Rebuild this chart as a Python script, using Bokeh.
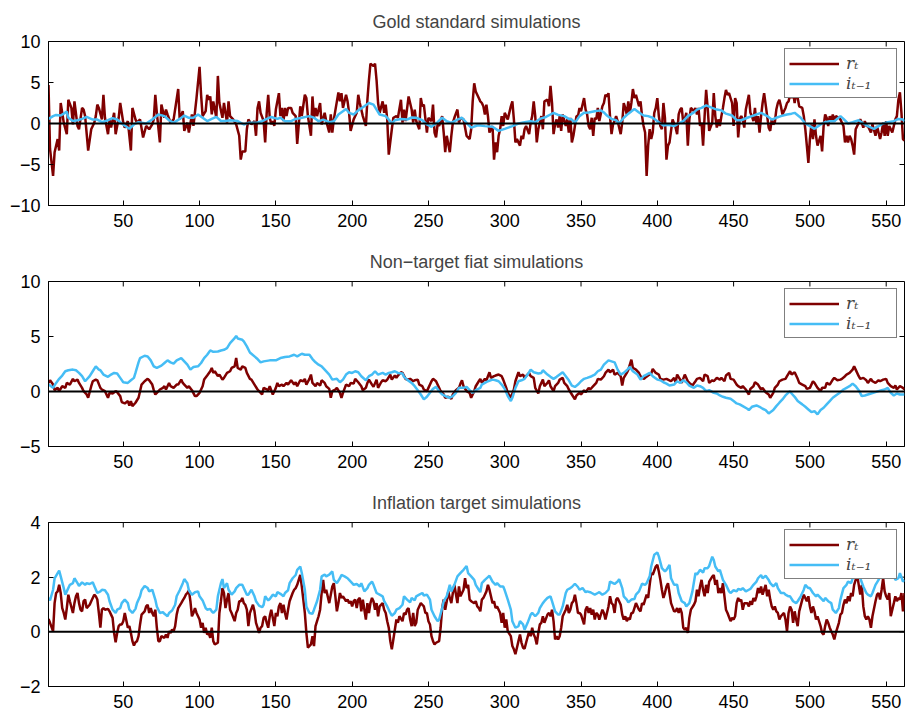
from bokeh.plotting import figure
from bokeh.models import Range1d, FixedTicker, Span, Legend, LegendItem
from bokeh.layouts import column
from bokeh.embed import file_html
from bokeh.resources import INLINE

# ---------------- data (period, value) ----------------
x_ticks = [50, 100, 150, 200, 250, 300, 350, 400, 450, 500, 550]
titles = ["Gold standard simulations", "Non\u2212target fiat simulations", "Inflation target simulations"]
legend_labels = ["r\u209c", "i\u209c\u208b\u2081"]

gold_rate = [
(1,4.7),(2,-3.1),(4,-6.4),(5,-3.5),(7,-1.9),(8,-3.3),(9,2.5),(11,0.1),(13,-1.3),(14,2.9),
(16,1.9),(17,-0.1),(18,2.7),(20,-0.3),(21,-0.7),(23,1.9),(24,1.7),(25,0.9),(27,-3.3),(29,-0.7),
(31,0.1),(32,0.9),(33,2.3),(34,1.9),(36,0.5),(37,3.5),(38,0.7),(40,-1.3),(41,0.5),(42,-0.5),
(44,1.3),(45,-1.3),(47,0.7),(48,2.5),(50,0.1),(51,-0.5),(53,0.3),(55,-3.3),(56,1.9),(58,0.5),
(59,0.1),(61,0.5),(63,-1.7),(65,-0.3),(67,-0.7),(69,-0.1),(70,0.5),(71,3.5),(72,1.3),(74,-2.3),
(75,2.3),(77,0.7),(78,1.7),(79,1.1),(81,0.1),(83,0.5),(86,4.2),(87,0.5),(89,1.5),(90,-0.9),
(92,0.1),(93,-1.1),(95,1.1),(96,-0.3),(98,3.1),(100,6.9),(101,3.5),(102,0.9),(104,1.5),(105,3.5),
(106,2.9),(107,3.3),(108,1.1),(109,2.7),(111,0.7),(112,5.8),(113,2.5),(115,0.7),(116,2.5),(118,0.1),
(119,2.7),(120,0.9),(122,0.5),(124,-0.1),(126,-1.5),(127,-4.4),(128,-3.4),(130,-3.4),(131,-0.7),(132,0.5),
(134,-0.1),(136,0.3),(137,-1.5),(138,1.9),(139,2.7),(140,1.3),(142,0.3),(143,-2.3),
(144,1.3),(145,3.5),(146,0.7),(147,-0.1),(148,0.3),(149,-0.3),(150,1.7),(152,3.7),(153,0.9),(154,1.9),
(155,0.3),(156,1.9),(157,0.9),(158,1.9),(160,1.9),(161,1.3),(163,0.9),(164,-2.5),(166,2.1),(167,0.9),
(169,3.5),(170,3.1),(171,0.9),(173,-1.5),(174,3.3),(175,0.7),(176,1.9),(177,0.9),(179,2.5),(180,-0.1),
(182,1.3),(183,0.3),(185,-1.1),(186,1.1),(187,-1.1),(188,0.5),(190,2.7),(191,3.8),(192,2.7),(193,3.7),
(194,1.9),(196,3.5),(197,2.7),(198,1.3),(199,-0.9),(201,0.5),(203,1.3),(204,3.5),(205,2.5),(207,0.9),
(209,-0.3),(210,2.9),(211,5.3),(212,7.3),(214,7.0),(215,7.3),(216,5.3),(217,2.5),(218,1.3),(220,2.7),
(221,1.3),(222,2.3),(223,0.5),(224,-3.8),(226,-0.7),(227,0.7),(229,0.9),(230,0.7),(232,2.9),(233,0.1),
(234,1.7),(235,0.3),(237,3.3),(238,2.5),(239,1.7),(240,0.1),(241,1.7),(242,0.3),(244,-0.7),(245,3.1),
(246,2.1),(247,2.3),(249,-1.1),(250,0.7),(252,0.3),(253,2.3),(254,-1.1),(255,-1.7),(256,-0.1),(257,-0.3),
(259,0.9),(260,-1.1),(261,-3.5),(262,-1.5),(264,-3.5),(265,-1.5),(266,0.1),(267,0.7),(269,1.7),(270,0.1),
(271,0.7),(273,0.5),(274,-0.5),(275,-1.5),(277,-1.9),(278,-0.7),(279,2.7),(280,4.9),(281,3.9),(283,3.1),(284,2.7),
(285,2.5),(286,2.1),(287,1.1),(288,2.3),(289,0.9),(290,-1.1),(292,-0.3),(293,-4.4),(294,-2.3),(295,-3.5),
(296,-1.5),(297,-0.7),(298,0.9),(299,-0.3),(300,1.3),(301,0.9),(302,0.5),(304,2.1),(305,2.7),(306,0.5),
(307,-2.3),(308,-1.9),(309,-2.3),(310,-2.7),(311,-1.5),(312,-1.9),(313,-0.7),(314,-0.3),(316,-1.3),(317,0.1),
(318,0.9),(319,2.7),(320,0.9),(321,-2.3),(322,-0.7),(323,0.1),(324,0.9),(325,-0.7),(326,2.7),(328,2.9),
(329,2.1),(330,4.6),(331,2.5),(332,-1.3),(333,-0.1),(334,0.5),(335,-0.5),(336,0.9),(337,-0.9),(338,1.1),
(340,-0.3),(341,0.5),(342,-1.1),(343,0.7),(344,-2.3),(345,-1.5),(346,-0.3),(347,0.9),(348,0.9),(349,1.9),
(350,1.5),(352,3.1),(353,1.7),(354,1.1),(355,-0.3),(356,-0.7),(357,0.7),(358,-1.5),(359,0.7),(360,0.5),
(361,1.9),(362,0.3),(364,2.1),(365,2.5),(366,3.5),(367,3.3),(368,3.7),(369,0.9),(370,-1.3),(371,-0.1),
(372,0.3),(373,0.9),(374,0.3),(376,-1.3),(377,0.1),(378,2.5),(379,1.9),(380,1.1),(381,2.7),(382,1.3),
(383,2.5),(384,4.2),(385,3.1),(386,3.5),(388,2.1),(389,2.7),(390,0.9),(391,-0.3),(392,-1.1),(393,-6.4),
(394,-2.7),(395,-0.7),(396,-1.9),(397,-1.1),(398,1.3),(399,1.9),(400,3.1),(401,0.9),(402,-0.3),(403,-0.7),
(404,2.5),(405,0.7),(406,-4.4),(407,-2.7),(408,-2.3),(409,-0.9),(410,0.5),(412,-0.5),(413,-1.3),(414,1.1),
(415,1.7),(416,1.9),(417,0.1),(418,0.5),(419,1.3),(420,-2.7),(421,0.5),(422,1.9),(424,1.5),(425,1.9),
(426,1.1),(427,1.9),(428,-0.3),(429,0.1),(430,-2.7),(431,0.9),(432,4.1),(433,1.9),(434,-0.9),(436,0.1),
(437,3.7),(438,0.9),(439,-0.5),(440,0.5),(441,-0.3),(442,0.9),(443,1.9),(444,3.1),(445,4.1),(446,3.5),
(447,3.7),(449,2.5),(450,-0.3),(451,3.1),(452,2.5),(453,-1.7),(454,0.5),(455,0.9),(456,0.5),(457,-0.5),
(458,1.7),(460,3.5),(461,1.3),(462,0.9),(463,0.3),(464,1.9),(465,-0.1),(466,0.9),(467,-1.1),(468,0.9),
(469,2.5),(470,3.7),(472,0.9),(473,-0.5),(474,-0.9),(475,0.5),(476,-0.1),(477,0.1),(478,1.7),(479,2.5),
(480,2.9),(481,2.1),(482,1.1),(484,1.9),(485,2.5),(486,2.7),(487,3.5),(488,3.1),(489,3.9),(490,2.5),
(491,3.9),(492,3.1),(493,2.1),(495,1.9),(496,0.9),(497,-0.7),(498,-2.7),(499,-4.8),(500,-1.9),(501,-0.1),
(502,-1.9),(503,0.5),(504,-1.5),(505,-2.7),(507,-1.5),(508,-3.4),(509,-0.3),(510,1.1),(511,0.7),(512,-0.3),
(513,0.9),(514,0.3),(515,1.1),(516,0.3),(517,0.9),(519,0.7),(520,0.5),(521,0.1),(522,-0.3),(523,-2.3),
(524,-1.5),(525,-2.3),(526,-1.5),(527,-1.9),(528,-2.7),(529,-3.8),(530,-0.7),(531,-0.3),(533,0.5),(534,0.1),
(535,-0.5),(536,0.3),(537,-0.3),(538,-0.3),(539,-0.7),(540,-1.1),(541,-0.1),(543,-1.5),(544,-0.3),(545,-1.1),
(546,-1.9),(547,-1.1),(548,0.1),(549,-1.5),(550,0.3),(551,-1.5),(552,-0.3),(554,-1.1),(555,-0.3),(556,0.5),
(557,0.9),(558,2.9),(559,3.8),(560,1.3),(561,-1.9),(562,-2.1)]

gold_nominal = [
(1,0.56),(4,0.9),(6,1.05),(9,0.97),(11,1.2),(13,1.45),(14,0.7),(17,0.3),(20,0.4),(23,0.56),
(26,0.8),(30,0.48),(33,0.48),(36,0.16),(40,0.4),(43,0.65),(46,0.48),(49,0.0),(54,-0.65),(57,-0.12),
(60,0.16),(65,0.0),(69,0.48),(73,1.1),(77,0.9),(80,0.4),(83,0.08),(87,0.56),(90,0.97),(93,0.7),
(96,0.7),(99,1.1),(102,0.7),(105,0.3),(108,0.56),(111,0.8),(114,0.3),(117,0.3),(120,0.4),(125,0.3),
(129,-0.12),(132,0.08),(137,0.08),(141,0.28),
(143,0.48),(147,0.8),(151,0.56),(153,0.7),(156,0.28),(160,0.28),(163,0.56),(167,0.7),(172,0.9),(175,0.7),
(178,0.28),(181,0.48),(185,0.16),(188,0.28),(191,1.1),(196,1.77),(198,1.3),(201,1.1),(204,1.6),(208,2.1),
(211,2.5),(214,2.3),(216,1.7),(218,1.1),(222,0.9),(224,0.48),(226,0.0),(228,0.4),(232,0.56),(236,0.48),
(239,0.73),(242,0.7),(246,0.4),(249,-0.12),(252,-0.4),(256,0.16),(259,0.7),(262,0.28),(265,0.08),(269,0.48),
(272,0.7),(275,0.08),(278,-0.5),(282,-0.24),
(284,-0.24),(287,-0.32),(292,-0.4),(296,-0.9),(300,-0.65),(305,-0.32),(309,0.0),(313,0.16),(317,0.28),(320,0.16),
(323,0.56),(327,0.8),(330,1.1),(332,1.3),(335,1.05),(339,0.9),(342,0.56),(344,0.48),(346,0.08),(349,0.9),
(352,1.3),(355,1.35),(359,1.5),(363,1.6),(365,1.35),(367,0.97),(370,0.56),(373,0.4),(375,0.0),(378,0.7),
(381,1.2),(385,1.77),(388,1.35),(391,0.97),(394,0.9),(397,0.7),(401,0.16),(404,-0.24),(407,-0.16),(411,-0.32),
(414,0.0),(417,0.28),(420,0.9),(424,1.35),
(426,1.7),(429,1.9),(432,2.2),(436,1.9),(439,1.7),(442,1.6),(445,1.2),(449,0.97),(452,0.4),(455,0.4),
(459,0.7),(462,0.9),(465,1.1),(468,1.3),(472,0.9),(475,0.48),(478,0.7),(481,0.9),(485,1.1),(488,1.2),
(490,1.3),(494,0.7),(497,0.0),(500,-0.32),(503,-0.65),(507,-0.12),(510,0.16),(513,0.28),(516,0.28),(520,0.9),
(522,0.56),(525,0.0),(528,0.16),(532,0.4),(535,0.0),(538,-0.32),(542,-0.65),(545,-0.32),(548,0.0),(551,0.16),
(555,0.28),(558,0.56),(561,0.48),(562,0.28)]

fiat_rate = [
(1,0.78),(2,1.02),(4,0.63),(5,0.12),(7,0.33),(8,0.03),(10,0.48),(12,0.33),(13,0.78),(15,0.63),
(17,1.15),(18,0.93),(20,1.08),(21,0.78),(23,0.33),(24,0.03),(26,-0.27),(27,-0.57),(29,0.48),(30,0.93),
(32,1.08),(33,1.02),(35,0.33),(36,0.18),(38,0.03),(40,-0.57),(41,-0.12),(43,-0.18),(45,0.03),(46,-0.06),
(48,-0.42),(49,-0.96),(51,-1.08),(53,-0.87),(54,-1.27),(55,-0.87),(56,-1.33),(58,-1.02),(60,-0.57),(61,0.03),
(62,0.63),(64,0.93),(66,1.15),(67,1.02),(69,0.63),(70,0.12),(71,-0.27),(72,-0.12),(74,0.18),(76,0.33),
(77,0.48),(78,0.18),(80,0.78),(81,0.48),(83,0.33),(85,0.63),(86,0.63),(88,1.08),(89,0.78),(90,0.63),
(92,0.33),(93,0.48),(95,0.12),(97,-0.42),(98,-0.42),(100,-0.12),(102,0.48),(103,1.08),(105,1.45),(107,1.84),
(108,2.14),(109,1.69),(110,1.84),(112,1.39),(113,1.54),(115,1.08),(116,1.24),(118,1.69),(120,1.84),(121,2.14),
(123,2.29),(124,3.04),(125,2.14),(127,1.99),(128,2.29),(130,2.14),(131,1.69),(133,1.15),(134,1.08),(136,0.63),
(138,0.18),(139,0.03),(141,-0.27),(142,0.33),
(145,0.12),(146,0.48),(148,-0.27),(150,0.33),(151,0.78),(152,0.48),(154,0.63),(155,0.48),(157,0.78),(158,0.63),
(160,1.02),(162,0.63),(163,0.84),(164,0.48),(166,1.02),(168,0.93),(169,1.15),(170,0.63),(172,1.15),(173,1.54),
(174,0.78),(176,0.48),(177,0.78),(179,0.54),(180,1.02),(182,0.78),(183,0.48),(185,0.24),(186,-0.57),(187,0.03),
(189,0.18),(190,0.33),(192,-0.12),(193,-0.57),(194,-0.12),(196,0.63),(198,0.48),(199,0.78),(201,0.72),(202,1.15),
(204,0.84),(206,0.48),(207,0.12),(209,0.33),(210,0.78),(211,1.08),(213,0.63),(214,0.42),(216,1.08),(217,0.33),
(219,0.84),(220,1.02),(222,0.93),(223,1.08),(225,1.54),(226,1.08),(228,1.45),(229,1.24),(230,1.45),(232,1.75),
(233,1.69),(235,1.15),(236,1.08),(238,1.15),(240,0.93),(241,1.02),(243,1.08),(244,0.63),(246,0.48),(247,0.18),
(249,0.03),(250,0.33),(252,0.93),(253,1.15),(255,0.93),(257,0.33),(258,0.03),(260,-0.27),(261,-0.57),(263,-0.48),
(265,-0.66),(266,-0.27),(268,0.12),(270,0.33),(271,0.72),(272,1.02),(273,0.48),(275,0.03),(277,-0.12),(278,-0.57),
(280,0.03),(281,0.48),(283,0.93),(284,1.15),
(285,0.78),(287,1.15),(288,1.02),(290,1.75),(291,1.24),(293,1.39),(294,1.45),(296,1.54),(298,1.39),(299,1.08),
(301,0.33),(302,-0.12),(304,-0.57),(306,0.18),(307,0.93),(309,1.75),(310,1.39),(312,1.54),(313,1.24),(314,1.39),
(316,1.69),(317,1.39),(319,1.24),(320,0.33),(322,-0.18),(323,0.48),(325,1.08),(326,0.48),(328,0.78),(329,1.02),
(330,0.48),(332,0.03),(333,0.48),(335,0.78),(336,1.08),(338,1.24),(339,0.78),(341,0.48),(342,0.18),(344,-0.27),
(346,-0.72),(347,-0.36),(349,-0.12),(350,-0.27),(352,0.12),(353,-0.06),(355,0.33),(356,0.18),(358,0.48),(360,0.78),
(361,1.15),(363,1.08),(365,1.39),(366,1.69),(368,1.99),(369,1.75),(371,1.99),(372,1.54),(374,1.69),(376,1.39),
(377,0.54),(378,1.24),(380,1.69),(381,1.99),(383,2.89),(384,2.14),(386,1.99),(388,1.69),(389,1.39),(391,1.15),
(392,1.24),(394,1.45),(396,1.63),(397,2.05),(399,1.69),(401,1.54),(402,1.15),(404,1.08),(406,1.15),(407,1.08),
(409,0.93),(411,1.24),(412,0.84),(413,1.54),(415,1.08),(416,0.78),(418,1.54),(420,0.93),(421,0.78),(423,0.54),
(425,0.93),(426,1.15),(428,1.24),(430,0.93),(431,1.54),(433,1.39),(434,0.78),(436,1.02),(437,0.93),(439,1.24),
(441,1.08),(442,1.24),(444,0.93),(445,1.45),(447,1.69),(448,1.15),(450,1.08),(452,0.63),(453,0.48),(455,0.33),
(456,0.48),(458,0.18),(460,-0.27),(461,0.24),(463,0.48),(464,0.84),(466,0.63),(468,0.18),(469,0.33),(471,-0.06),
(473,-0.27),(474,-0.57),(476,-0.12),(477,0.33),(479,0.63),(480,0.93),(482,1.08),(484,1.15),(485,1.39),(487,1.84),
(488,1.54),(490,1.75),(492,1.15),(493,0.78),(495,0.63),(497,0.48),(498,0.24),(500,0.33),(502,0.93),(503,0.78),
(505,0.33),(507,0.03),(508,0.33),(510,0.33),(511,0.78),(513,0.63),(515,1.08),(516,1.24),(518,1.02),(520,1.08),
(521,1.15),(523,1.39),(524,1.54),(526,1.69),(528,1.99),(529,2.29),(530,1.99),(532,1.39),(533,1.15),(535,1.24),
(537,1.02),(538,0.78),(540,1.15),(541,0.93),(543,0.78),(545,1.02),(546,0.93),(548,1.08),(550,1.15),(551,0.78),
(553,0.48),(555,0.33),(556,0.54),(557,0.18),(559,0.48),(561,0.33),(562,0.18)]

fiat_nominal = [
(1,0.63),(2,0.54),(4,0.33),(6,0.78),(8,1.15),(10,1.45),(12,1.84),(14,1.93),(17,1.99),(19,1.93),
(21,1.69),(23,1.39),(25,0.93),(28,1.39),(30,1.84),(32,2.29),(34,1.99),(35,1.93),(37,1.54),(40,1.33),
(42,1.54),(44,1.69),(46,1.63),(48,1.24),(50,0.84),(53,0.78),(55,1.02),(57,1.24),(58,1.69),(60,2.65),
(61,3.04),(64,3.25),(66,3.19),(68,2.83),(70,2.29),(72,2.14),(75,2.35),(77,2.59),(79,2.83),(81,2.65),
(83,2.53),(85,2.83),(88,3.04),(90,2.74),(92,2.44),(94,1.99),(96,2.23),(99,2.29),(101,2.59),(103,3.04),
(105,3.34),(107,3.73),(109,3.61),(112,3.64),(114,3.73),(116,3.79),(118,3.94),(120,4.40),(123,4.85),(124,5.06),
(125,4.82),(128,4.70),(129,4.55),(131,4.10),(133,3.55),(136,3.19),(138,2.95),(140,2.65),(142,2.74),
(146,2.83),(150,2.83),(153,3.04),(156,3.13),(159,3.19),(162,3.34),(164,3.19),(167,3.43),(169,3.34),(172,3.34),
(174,2.95),(176,2.65),(178,2.44),(180,2.29),(182,1.99),(185,1.54),(187,1.08),(190,1.15),(192,0.84),(194,1.08),
(196,1.54),(198,1.75),(200,1.69),(202,1.84),(204,1.75),(206,1.39),(209,1.02),(211,1.39),(213,1.54),(215,1.84),
(217,1.54),(220,1.69),(222,1.54),(224,1.69),(226,1.75),(228,1.84),(230,1.69),(233,1.63),(234,1.33),(236,1.08),
(239,0.78),(241,0.48),(243,0.12),(245,-0.27),(247,-0.72),(249,-0.48),(251,-0.12),(253,0.24),(255,0.42),(257,0.03),
(259,-0.27),(262,-0.48),(264,-0.57),(266,-0.42),(268,-0.12),(270,0.33),(273,0.33),(275,0.42),(277,0.12),(279,-0.12),
(281,0.12),(284,0.33),
(285,0.63),(287,0.78),(289,0.93),(292,1.08),(294,1.02),(296,0.93),(298,0.63),(300,0.24),(302,-0.42),(304,-0.87),
(305,-0.57),(307,0.33),(309,0.93),(311,1.02),(313,1.15),(315,1.54),(317,1.99),(319,1.75),(322,1.63),(324,1.69),
(325,1.93),(328,1.54),(330,1.33),(332,1.15),(334,1.33),(336,1.54),(338,1.75),(340,1.39),(342,1.02),(344,0.54),
(346,0.42),(348,0.63),(350,0.93),(352,1.15),(354,1.24),(357,1.39),(359,1.54),(361,1.84),(363,1.99),(365,2.44),
(368,2.83),(370,2.74),(372,2.65),(374,1.99),(376,1.54),(378,1.69),(380,1.93),(382,2.23),(384,1.84),(387,1.54),
(389,1.08),(391,1.39),(393,1.54),(395,1.69),(397,1.39),(400,1.08),(402,1.02),(404,0.84),(406,0.72),(408,0.54),
(411,0.63),(413,0.93),(415,0.78),(417,1.02),(419,0.84),(421,0.54),(424,0.33),
(426,0.54),(428,0.48),(430,0.33),(432,0.03),(434,0.12),(437,-0.12),(439,-0.18),(441,-0.36),(443,-0.48),(445,-0.57),
(448,-0.66),(450,-0.87),(452,-1.08),(454,-1.17),(456,-1.33),(459,-1.57),(460,-1.69),(462,-1.39),(465,-1.27),(467,-1.39),
(469,-1.57),(471,-1.69),(473,-1.99),(476,-1.69),(478,-1.33),(480,-1.02),(482,-0.72),(484,-0.36),(487,0.03),(488,-0.18),
(490,-0.48),(492,-0.87),(495,-1.17),(497,-1.39),(499,-1.63),(501,-1.87),(503,-1.78),(505,-2.08),(507,-1.69),(509,-1.48),
(511,-1.17),(513,-0.87),(515,-0.57),(517,-0.36),(520,-0.06),(522,0.18),(524,0.33),(526,0.48),(528,0.72),(530,0.48),
(532,0.12),(534,-0.42),(536,-0.36),(538,-0.27),(540,-0.18),(543,-0.06),(545,0.03),(547,0.12),(549,0.18),(551,0.33),
(553,-0.12),(555,-0.36),(557,-0.18),(559,-0.27),(562,-0.27)]

target_rate = [
(1,0.47),(2,0.33),(4,0.02),(5,1.05),(6,1.42),(7,1.48),(8,1.72),(9,1.42),(10,0.87),(11,0.69),
(12,0.45),(13,0.87),(14,1.36),(15,1.12),(17,0.69),(18,1.05),(19,1.30),(20,1.42),(21,1.05),(22,0.81),
(23,0.75),(24,1.12),(25,1.18),(26,0.87),(28,0.99),(29,1.12),(30,1.24),(31,1.36),(32,1.30),(33,1.18),
(34,0.69),(35,0.15),(36,0.81),(37,0.87),(38,0.81),(40,0.84),(41,0.75),(42,0.63),(43,0.51),(44,-0.04),
(45,-0.38),(46,-0.04),(47,0.21),(48,0.27),(49,0.27),(50,0.39),(51,0.69),(53,0.15),(54,0.21),(55,-0.04),
(56,-0.34),(57,-0.50),(58,-0.38),(59,-0.34),(60,-0.16),(61,0.27),(62,0.63),(64,0.75),(65,0.93),(66,0.99),
(67,0.69),(68,0.87),(69,0.69),(70,0.57),(71,0.81),(72,0.15),(73,-0.34),(74,-0.34),(75,-0.16),(77,-0.22),
(78,-0.10),(79,-0.22),(80,0.02),(81,-0.04),(82,0.08),(83,0.02),(84,0.21),(85,0.63),(86,0.87),(88,1.05),
(89,1.15),(90,1.24),(91,1.36),(92,1.42),(93,1.52),(94,1.12),(95,0.57),(96,0.69),(97,0.87),(98,0.69),
(100,0.45),(101,0.15),(102,0.33),(103,-0.04),(104,0.15),(105,-0.10),(106,-0.04),(107,-0.22),(108,0.15),(109,-0.34),
(110,-0.46),(112,-0.40),(113,0.69),(114,1.12),(115,1.60),(116,1.42),(117,0.87),(118,1.18),(119,1.42),(120,0.81),
(121,0.69),(123,0.39),(124,0.69),(125,0.81),(126,1.12),(127,1.12),(128,1.24),(129,1.05),(130,0.99),(131,0.81),
(132,0.21),(133,0.69),(135,0.99),(136,0.75),(137,0.33),(138,0.15),(139,-0.04),(140,0.15),(141,0.21),(142,0.51),
(143,0.57),
(144,0.33),(145,0.15),(146,0.57),(147,0.81),(149,0.21),(150,0.69),(151,0.57),(152,0.93),(153,1.05),(154,0.69),
(155,0.99),(156,0.69),(157,0.45),(158,0.81),(159,1.12),(161,1.42),(162,1.54),(163,1.60),(164,1.72),(165,1.90),
(166,2.08),(167,1.66),(168,1.18),(169,0.69),(170,-0.04),(171,-0.58),(173,-0.46),(174,-0.16),(175,-0.52),(176,0.21),
(177,0.39),(178,0.57),(179,0.81),(180,1.42),(181,1.90),(182,1.42),(183,1.54),(185,1.05),(186,1.36),(187,1.66),
(188,1.78),(189,1.30),(190,0.75),(191,1.05),(192,1.42),(193,1.24),(194,1.30),(196,1.12),(197,1.18),(198,1.05),
(199,1.12),(200,0.93),(201,1.12),(202,1.18),(203,0.87),(204,1.18),(205,1.24),(206,0.75),(207,1.18),(209,0.45),
(210,1.05),(211,0.69),(212,1.05),(213,1.24),(214,1.12),(215,0.81),(216,1.05),(217,0.57),(218,0.93),(220,1.05),
(221,0.81),(222,0.69),(223,0.39),(224,0.15),(225,-0.34),(226,-0.64),(227,-0.28),(228,0.08),(229,0.45),(230,0.33),
(231,0.57),(233,0.39),(234,0.69),(235,0.63),(236,0.81),(237,0.87),(238,0.45),(239,0.21),(240,0.69),(241,0.21),
(242,0.33),(243,0.81),(245,1.05),(246,0.99),(247,0.93),(248,0.69),(249,0.69),(250,0.39),(251,0.27),(252,-0.16),
(253,-0.34),(254,-0.46),(255,-0.40),(257,-0.34),(258,0.15),(259,0.87),(260,1.18),(261,0.81),(262,1.12),(263,1.48),
(264,1.24),(265,1.05),(266,1.42),(267,1.72),(269,1.05),(270,1.66),(271,1.30),(272,1.42),(273,1.54),(274,1.96),
(275,1.60),(276,1.72),(277,1.18),(278,1.12),(280,1.05),(281,1.12),(282,0.93),(283,0.87),(284,0.75),
(285,1.18),(286,1.24),(287,1.36),(288,1.48),(289,1.72),(290,1.54),(292,1.05),(293,1.12),(294,0.87),(295,0.93),
(296,0.81),(297,0.69),(298,0.33),(299,0.69),(300,0.15),(301,0.45),(302,0.02),(304,-0.16),(305,-0.52),(306,-0.64),
(307,-0.82),(308,-0.58),(309,-0.34),(310,-0.10),(311,-0.40),(312,-0.58),(313,-0.62),(314,-0.40),(316,0.02),(317,-0.16),
(318,0.15),(319,-0.10),(320,-0.22),(321,-0.46),(322,-0.04),(323,0.27),(324,0.33),(325,0.57),(326,0.33),(328,0.63),
(329,0.69),(330,0.57),(331,0.81),(332,0.39),(333,-0.28),(334,-0.16),(335,-0.28),(336,-0.16),(337,0.15),(338,0.57),
(340,0.81),(341,0.99),(342,0.69),(343,0.81),(344,1.05),(345,1.12),(346,1.36),(347,1.05),(348,0.69),(349,0.69),
(350,0.63),(352,0.27),(353,0.81),(354,0.93),(355,0.69),(356,0.87),(357,0.63),(358,0.81),(359,0.45),(360,0.69),
(361,0.63),(362,0.45),(364,0.81),(365,0.69),(366,0.45),(367,0.69),(368,0.93),(369,1.30),(370,1.05),(371,0.99),
(372,0.69),(373,1.18),(374,1.24),(376,0.99),(377,0.63),(378,0.45),(379,0.57),(380,0.39),(381,0.51),(382,0.45),
(383,0.69),(384,0.69),(385,0.87),(386,1.05),(388,0.81),(389,0.75),(390,1.05),(391,0.99),(392,1.18),(393,1.36),
(394,1.24),(395,1.72),(396,2.15),(397,2.09),(399,2.39),(400,2.45),(401,2.21),(402,1.90),(403,1.54),(404,1.24),
(405,1.42),(406,1.66),(407,1.78),(408,1.42),(409,1.05),(411,0.75),(412,0.75),(413,0.87),(414,0.69),(415,0.87),
(416,0.69),(417,0.15),(418,0.08),(419,0.15),(420,-0.04),(421,0.51),(422,0.81),(424,0.99),(425,1.12),
(426,1.54),(427,1.30),(428,1.66),(429,1.90),(430,1.54),(431,1.30),(432,1.72),(433,1.42),(434,1.84),(436,2.02),
(437,2.08),(438,1.72),(439,1.90),(440,1.42),(441,1.60),(442,1.42),(443,1.78),(444,1.30),(445,0.81),(446,0.69),
(448,0.39),(449,0.51),(450,0.45),(451,0.57),(452,1.05),(453,1.24),(454,1.12),(455,1.18),(456,0.81),(457,1.05),
(459,1.05),(460,0.93),(461,1.12),(462,0.99),(463,1.24),(464,1.12),(465,1.30),(466,1.60),(467,1.42),(468,1.66),
(469,1.36),(471,1.72),(472,1.30),(473,1.54),(474,1.18),(475,0.93),(476,0.81),(477,0.93),(478,0.75),(479,0.69),
(480,0.45),(481,0.57),(483,0.69),(484,0.45),(485,0.02),(486,0.69),(487,0.93),(488,0.81),(489,0.33),(490,0.75),
(491,0.45),(492,0.21),(493,0.75),(495,1.18),(496,1.36),(497,1.24),(498,1.12),(499,1.30),(500,0.93),(501,0.69),
(502,0.93),(503,0.75),(504,0.45),(505,0.57),(507,0.21),(508,-0.04),(509,-0.10),(510,0.21),(511,0.45),(512,0.33),
(513,0.15),(514,0.02),(515,-0.10),(516,-0.28),(517,-0.04),(519,0.33),(520,0.63),(521,0.69),(522,0.99),(523,1.18),
(524,1.05),(525,1.30),(526,1.12),(527,1.42),(528,1.30),(529,1.72),(531,2.08),(532,1.72),(533,1.36),(534,1.72),
(535,0.93),(536,0.57),(537,0.45),(538,0.57),(539,0.45),(540,0.15),(541,0.57),(543,1.12),(544,1.36),(545,1.42),
(546,1.18),(547,1.54),(548,1.96),(549,1.48),(550,1.30),(551,1.18),(552,1.42),(553,0.57),(555,1.05),(556,1.30),
(557,1.12),(558,1.24),(559,1.18),(560,1.42),(561,0.75),(562,1.42)]

target_nominal = [
(1,1.24),(2,1.15),(4,1.54),(5,1.96),(7,2.15),(8,2.24),(9,2.03),(11,1.60),(12,1.36),(13,1.48),
(15,1.72),(17,1.78),(18,1.96),(20,1.78),(21,1.68),(23,1.81),(25,1.72),(26,1.78),(28,1.75),(30,1.81),
(31,1.68),(33,1.42),(35,1.48),(36,1.54),(38,1.52),(40,1.36),(41,1.12),(43,0.81),(45,0.69),(46,0.81),
(48,0.87),(49,1.05),(51,1.18),(53,1.05),(54,0.81),(56,0.69),(58,0.84),(59,1.05),(61,1.30),(62,1.52),
(64,1.68),(66,1.60),(67,1.48),(69,1.54),(71,1.18),(72,0.93),(74,0.69),(76,0.72),(77,0.66),(79,0.57),
(80,0.69),(82,0.78),(84,0.99),(85,1.30),(87,1.52),(89,1.78),(90,1.93),(92,1.78),(93,1.52),(95,1.36),
(97,1.45),(99,1.48),(100,1.30),(102,1.15),(104,0.87),(105,0.81),(107,0.84),(108,0.75),(109,0.69),(111,0.81),
(112,1.30),(114,1.78),(115,1.93),(116,1.60),(118,1.78),(119,1.54),(121,1.36),(123,1.48),(124,1.60),(126,1.72),
(128,1.72),(129,1.60),(131,1.36),(132,1.36),(134,1.54),(136,1.30),(137,1.12),(139,0.96),(141,0.90),(142,0.99),
(143,1.30),
(145,1.15),(146,1.20),(148,1.36),(150,1.30),(151,1.45),(153,1.39),(155,1.30),(156,1.42),(158,1.52),(159,1.78),
(161,1.96),(163,2.08),(164,2.27),(166,2.39),(167,2.15),(169,1.54),(170,0.93),(172,0.69),(174,0.66),(175,0.81),
(177,1.12),(179,1.54),(180,2.03),(182,2.09),(183,2.03),(185,2.09),(187,2.21),(188,1.90),(190,1.78),(192,1.96),
(193,2.08),(195,2.03),(197,1.96),(198,1.90),(200,1.78),(201,1.72),(203,1.75),(205,1.66),(206,1.78),(208,1.48),
(210,1.60),(211,1.72),(213,1.84),(214,1.72),(216,1.42),(218,1.36),(220,1.30),(221,1.12),(223,0.93),(225,0.69),
(226,0.59),(228,0.69),(229,0.81),(231,0.87),(233,0.99),(234,1.30),(236,1.18),(238,1.08),(239,1.24),(241,1.15),
(242,1.30),(244,1.36),(246,1.42),(247,1.33),(249,1.36),(251,1.18),(252,0.81),(254,0.57),(256,0.39),(257,0.45),
(259,0.87),(260,1.12),(262,1.30),(264,1.72),(265,1.48),(267,1.72),(269,2.03),(270,2.09),(272,2.21),(273,2.27),
(275,2.41),(276,2.15),(278,2.03),(280,1.90),(281,1.72),(283,1.54),(284,1.45),
(285,1.78),(287,1.90),(289,2.00),(290,2.05),(292,1.84),(294,1.72),(295,1.78),(297,1.66),(299,1.66),(300,1.52),
(302,1.18),(304,0.81),(305,0.39),(307,0.15),(309,0.21),(310,0.39),(312,0.27),(313,0.08),(315,0.33),(317,0.63),
(318,0.69),(320,0.57),(322,0.69),(323,0.87),(325,1.05),(326,1.12),(328,1.24),(330,1.30),(331,1.12),(333,0.75),
(335,0.63),(336,0.63),(338,0.93),(340,1.42),(341,1.54),(343,1.60),(344,1.64),(346,1.76),(348,1.64),(349,1.54),
(351,1.60),(353,1.45),(354,1.48),(356,1.45),(357,1.42),(359,1.36),(361,1.42),(362,1.45),(364,1.36),(366,1.42),
(368,1.54),(369,1.84),(371,1.78),(372,1.75),(374,1.84),(375,1.93),(377,1.60),(378,1.30),(380,1.18),(381,1.08),
(383,1.18),(385,1.20),(386,1.36),(388,1.48),(390,1.76),(392,1.72),(393,1.78),(395,2.03),(396,2.39),(398,2.82),
(400,2.90),(401,2.76),(403,2.33),(405,2.21),(406,2.27),(408,2.45),(409,1.96),(411,1.72),(413,1.72),(414,1.42),
(416,1.12),(418,1.05),(419,0.93),(421,1.05),(423,1.48),
(425,2.15),(426,2.09),(428,2.27),(430,2.17),(431,2.33),(433,2.33),(434,2.41),(436,2.75),(437,2.63),(438,2.39),
(440,2.21),(441,2.27),(443,1.90),(445,1.72),(447,1.48),(448,1.42),(450,1.52),(452,1.48),(453,1.57),(455,1.54),
(456,1.60),(458,1.48),(460,1.54),(461,1.57),(463,1.72),(465,1.84),(466,1.96),(468,2.08),(469,1.96),(471,2.05),
(473,1.90),(474,1.78),(476,1.66),(478,1.78),(479,1.60),(481,1.42),(483,1.42),(484,1.36),(486,1.30),(487,1.30),
(489,1.12),(491,1.05),(492,1.12),(494,1.30),(496,1.54),(497,1.72),(499,1.60),(500,1.60),(502,1.42),(504,1.30),
(505,1.36),(507,1.24),(509,1.12),(510,1.24),(512,1.12),(514,1.05),(515,0.81),(517,0.69),(519,0.87),(520,1.18),
(522,1.60),(524,1.72),(525,1.84),(527,1.78),(528,1.96),(530,2.15),(532,2.15),(533,1.96),(535,1.66),(537,1.42),
(538,1.36),(540,1.30),(541,1.42),(543,1.72),(545,1.90),(546,2.03),(548,2.21),(550,2.15),(551,2.09),(553,2.21),
(555,2.09),(556,1.90),(558,1.96),(559,2.15),(561,1.84),(562,1.90)]

y_limits = [(-10, 10), (-5, 10), (-2, 4)]
y_ticks = [[-10, -5, 0, 5, 10], [-5, 0, 5, 10], [-2, 0, 2, 4]]
x_limits = (1, 562)

# ---------------- styling ----------------
RED = "#7f0000"
BLUE = "#45bdf5"
FONT = "Liberation Sans"
FRAME_W = 856
TICK_PX = 5


def style_axis(ax, ticks):
    ax.ticker = FixedTicker(ticks=ticks)
    ax.major_tick_in = TICK_PX
    ax.major_tick_out = 0
    ax.minor_tick_line_color = None
    ax.axis_line_color = "black"
    ax.major_tick_line_color = "black"
    ax.major_label_text_font = FONT
    ax.major_label_text_font_size = "18px"
    ax.major_label_text_color = "black"
    ax.major_label_standoff = 8
    ax.major_label_overrides = {t: str(t).replace("-", "\u2212") for t in ticks if t < 0}


def panel(title, rate, nominal, ylim, yt, height, top, bottom, frame_h):
    p = figure(width=906, height=height, output_backend="svg", toolbar_location=None,
               x_range=Range1d(*x_limits), y_range=Range1d(*ylim),
               min_border_left=48, min_border_right=2, min_border_top=top,
               min_border_bottom=bottom, title=title)
    p.title.text_font = FONT
    p.title.text_font_size = "18px"
    p.title.text_font_style = "normal"
    p.title.align = "center"
    p.title.standoff = 19
    p.grid.visible = False
    p.outline_line_color = "black"
    p.background_fill_color = "white"
    p.border_fill_color = "white"
    style_axis(p.xaxis[0], x_ticks)
    style_axis(p.yaxis[0], yt)

    # inward tick marks on the top and right edges of the box (MATLAB style)
    dy = TICK_PX * (ylim[1] - ylim[0]) / frame_h
    dx = TICK_PX * (x_limits[1] - x_limits[0]) / FRAME_W
    p.segment(x0=x_ticks, y0=[ylim[1]] * len(x_ticks), x1=x_ticks,
              y1=[ylim[1] - dy] * len(x_ticks), line_color="black", line_width=1)
    p.segment(x0=[x_limits[1]] * len(yt), y0=yt, x1=[x_limits[1] - dx] * len(yt),
              y1=yt, line_color="black", line_width=1)

    rx = [a for a, b in rate]
    ry = [b for a, b in rate]
    nx = [a for a, b in nominal]
    ny = [b for a, b in nominal]
    r1 = p.line(rx, ry, line_color=RED, line_width=2.5)
    r2 = p.line(nx, ny, line_color=BLUE, line_width=2.5)
    p.add_layout(Span(location=0, dimension="width", line_color="black", line_width=2))

    leg = Legend(items=[LegendItem(label=legend_labels[0], renderers=[r1]),
                        LegendItem(label=legend_labels[1], renderers=[r2])],
                 location="top_right")
    leg.label_text_font = "DejaVu Serif"
    leg.label_text_font_style = "italic"
    leg.label_text_font_size = "17px"
    leg.glyph_width = 50
    leg.glyph_height = 13
    leg.label_height = 13
    leg.label_width = 46
    leg.label_standoff = 7
    leg.spacing = 0
    leg.padding = 4
    leg.margin = 7
    leg.border_line_color = "black"
    leg.border_line_width = 1
    leg.background_fill_alpha = 1.0
    p.add_layout(leg, "center")
    return p


p1 = panel(titles[0], gold_rate, gold_nominal, y_limits[0], y_ticks[0], 240, 40, 35, 165)
p2 = panel(titles[1], fiat_rate, fiat_nominal, y_limits[1], y_ticks[1], 241, 40, 35, 166)
p3 = panel(titles[2], target_rate, target_nominal, y_limits[2], y_ticks[2], 230, 40, 25, 165)

layout = column(p1, p2, p3, spacing=0)
open("out.html", "w").write(file_html(layout, INLINE))
